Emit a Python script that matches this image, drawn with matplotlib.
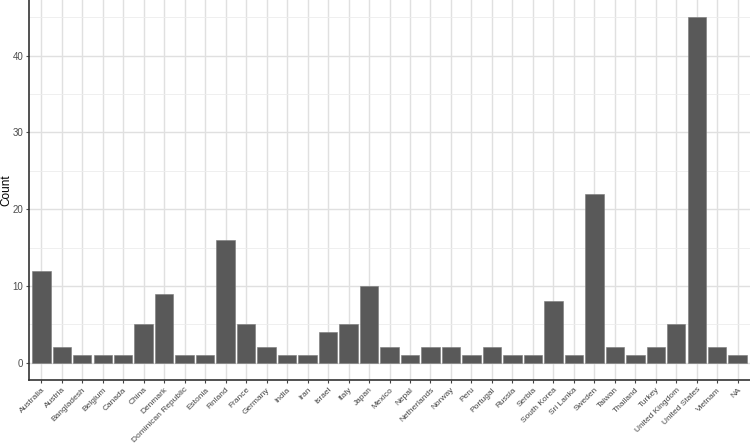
import matplotlib
matplotlib.use("Agg")
import matplotlib.pyplot as plt
import numpy as np

countries = ['Australia', 'Austria', 'Bangladesh', 'Belgium', 'Canada', 'China',
             'Denmark', 'Dominican Republic', 'Estonia', 'Finland', 'France',
             'Germany', 'India', 'Iran', 'Israel', 'Italy', 'Japan', 'Mexico',
             'Nepal', 'Netherlands', 'Norway', 'Peru', 'Portugal', 'Russia',
             'Serbia', 'South Korea', 'Sri Lanka', 'Sweden', 'Taiwan', 'Thailand',
             'Turkey', 'United Kingdom', 'United States', 'Vietnam', 'NA']
counts = [12, 2, 1, 1, 1, 5, 9, 1, 1, 16, 5, 2, 1, 1, 4, 5, 10, 2, 1, 2, 2,
          1, 2, 1, 1, 8, 1, 22, 2, 1, 2, 5, 45, 2, 1]

plt.rcParams['font.family'] = ['Liberation Sans', 'DejaVu Sans']

fig = plt.figure(figsize=(7.5, 4.46), dpi=100)
ax = fig.add_axes([29 / 750, 66 / 446, 1 - 29 / 750, 380 / 446])

x = np.arange(len(countries))
ax.bar(x, counts, width=0.9, color='#595959', edgecolor='#7a7a7a',
       linewidth=0.4, zorder=3)

ax.set_xlim(-0.6, len(countries) - 0.4)
ax.set_ylim(-2.25, 47.25)
ax.set_yticks([0, 10, 20, 30, 40])
ax.set_yticks([5, 15, 25, 35, 45], minor=True)
ax.set_xticks(x)
ax.set_xticklabels(countries, rotation=45, ha='right', va='top',
                   rotation_mode='anchor')

ax.grid(True, which='major', color='#e0e0e0', linewidth=1.0, zorder=0)
ax.grid(True, which='minor', axis='y', color='#ededed', linewidth=0.6, zorder=0)

for s in ['top', 'right']:
    ax.spines[s].set_visible(False)
for s in ['left', 'bottom']:
    ax.spines[s].set_color('#333333')
    ax.spines[s].set_linewidth(1.2)

ax.tick_params(axis='x', which='major', labelsize=6.0, colors='#444444',
               length=2.5, width=0.8, pad=2)
ax.tick_params(axis='y', which='major', labelsize=7, colors='#4d4d4d',
               length=2.5, width=0.8, pad=1.5)
ax.tick_params(axis='y', which='minor', length=0)
ax.set_ylabel('Count', fontsize=8.5, va='center')
ax.yaxis.set_label_coords(-0.032, 0.5)

fig.savefig('out.png', dpi=100)
